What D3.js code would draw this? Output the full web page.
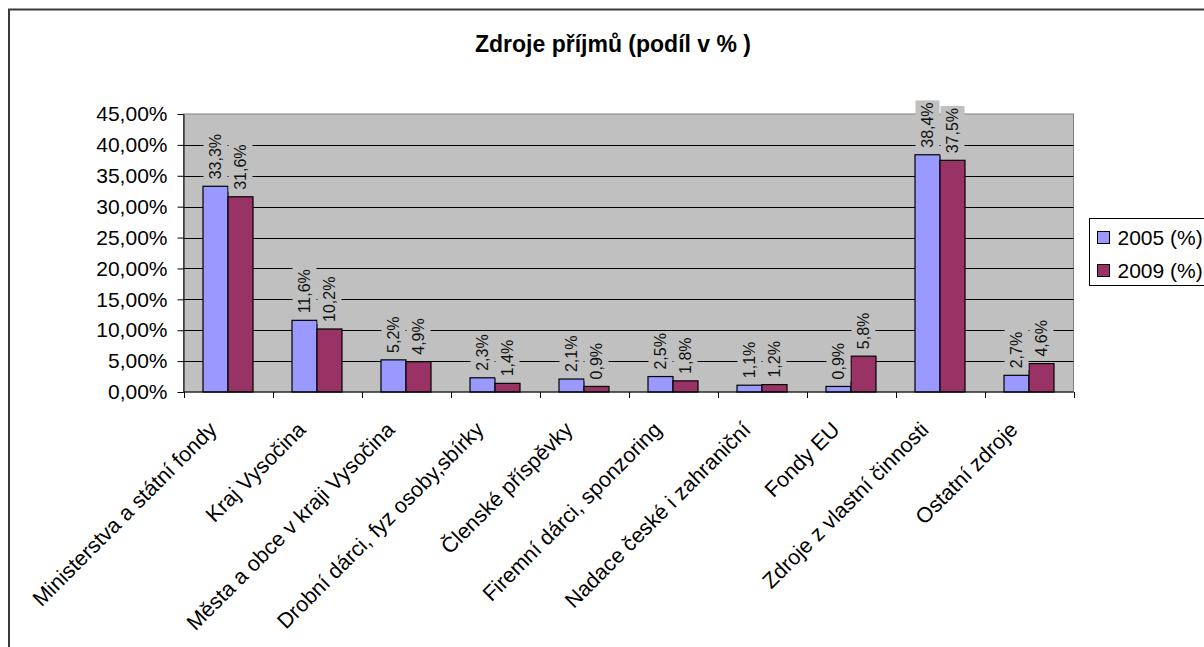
<!DOCTYPE html>
<html>
<head>
<meta charset="utf-8">
<script src="https://cdn.jsdelivr.net/npm/d3@7/dist/d3.min.js"></script>
<style>
  html, body { margin: 0; padding: 0; background: #ffffff; }
  svg { display: block; font-family: "Liberation Sans", Arial, sans-serif; }
</style>
</head>
<body>
<svg id="chart" width="1204" height="647"></svg>
<script>
// Income sources, share in percent
const categories = [
  "Ministerstva a státní fondy",
  "Kraj Vysočina",
  "Města a obce v kraji Vysočina",
  "Drobní dárci, fyz osoby,sbírky",
  "Členské příspěvky",
  "Firemní dárci, sponzoring",
  "Nadace české i zahraniční",
  "Fondy EU",
  "Zdroje z vlastní činnosti",
  "Ostatní zdroje"
];
const values2005 = [33.3, 11.6, 5.2, 2.3, 2.1, 2.5, 1.1, 0.9, 38.4, 2.7];
const values2009 = [31.6, 10.2, 4.9, 1.4, 0.9, 1.8, 1.2, 5.8, 37.5, 4.6];
const seriesNames = ["2005 (%)", "2009 (%)"];
const seriesColors = ["#9999FF", "#993366"];
const yTicks = [0, 5, 10, 15, 20, 25, 30, 35, 40, 45];
const titleText = "Zdroje příjmů (podíl v % )";

const series = [values2005, values2009];
const svg = d3.select("#chart");

// outer chart frame
svg.append("rect")
  .attr("x", 9).attr("y", 9.5)
  .attr("width", 1260).attr("height", 700)
  .attr("fill", "#ffffff")
  .attr("stroke", "#3a3a3a").attr("stroke-width", 2);

const plot = { left: 183.5, right: 1073.5, top: 114, bottom: 392 };

const x = d3.scaleBand().domain(categories).range([plot.left, plot.right]).padding(0);
const x1 = d3.scaleBand().domain(seriesNames).range([0, 50]).padding(0);
const groupOffset = (x.bandwidth() - 50) / 2;
const y = d3.scaleLinear().domain([0, 45]).range([plot.bottom, plot.top]);

// title
svg.append("text")
  .attr("x", 613).attr("y", 52)
  .attr("text-anchor", "middle")
  .attr("font-size", 23).attr("font-weight", "bold")
  .attr("fill", "#000")
  .text(titleText);

// plot background
svg.append("rect")
  .attr("x", plot.left).attr("y", plot.top)
  .attr("width", plot.right - plot.left).attr("height", plot.bottom - plot.top)
  .attr("fill", "#C0C0C0")
  .attr("stroke", "#808080").attr("stroke-width", 1);

// gridlines
svg.append("g")
  .selectAll("line")
  .data(yTicks.filter(t => t > 0 && t < 45))
  .join("line")
  .attr("x1", plot.left).attr("x2", plot.right)
  .attr("y1", d => Math.round(y(d)) + 0.5).attr("y2", d => Math.round(y(d)) + 0.5)
  .attr("stroke", "#000").attr("stroke-width", 1);

// bars
const rows = categories.map((c, i) => ({ cat: c, vals: series.map((s, j) => ({ name: seriesNames[j], value: s[i], color: seriesColors[j] })) }));

const groups = svg.append("g").selectAll("g")
  .data(rows)
  .join("g")
  .attr("transform", d => `translate(${x(d.cat) + groupOffset},0)`);

groups.selectAll("rect")
  .data(d => d.vals)
  .join("rect")
  .attr("x", d => x1(d.name))
  .attr("y", d => y(d.value))
  .attr("width", x1.bandwidth())
  .attr("height", d => y(0) - y(d.value))
  .attr("fill", d => d.color)
  .attr("stroke", "#000").attr("stroke-width", 1.2);

// data labels (rotated, with plot-coloured backing)
const fmtLabel = v => d3.format(".1f")(v).replace(".", ",") + "%";
const labels = groups.selectAll("g.lbl")
  .data(d => d.vals)
  .join("g")
  .attr("class", "lbl")
  .attr("transform", d => `translate(${x1(d.name) + x1.bandwidth() / 2},${y(d.value) - 7}) rotate(-90)`);

labels.append("rect").attr("class", "bg").attr("fill", "#C0C0C0");
labels.append("text")
  .attr("x", 0).attr("y", 0).attr("dy", "0.35em")
  .attr("font-size", 16).attr("fill", "#111")
  .text(d => fmtLabel(d.value));
labels.each(function() {
  const g = d3.select(this);
  const len = g.select("text").node().getComputedTextLength();
  g.select("rect.bg")
    .attr("x", -2).attr("y", -12)
    .attr("width", len + 4).attr("height", 24);
});

// y axis
const yAxis = d3.axisLeft(y)
  .tickValues(yTicks)
  .tickSize(6).tickSizeOuter(0).tickPadding(10)
  .tickFormat(d => d3.format(".2f")(d).replace(".", ",") + "%");
const gy = svg.append("g").attr("transform", `translate(${plot.left},0)`).call(yAxis);
gy.selectAll("text").attr("font-size", 21).attr("fill", "#000").attr("font-family", "Liberation Sans, Arial, sans-serif");
gy.selectAll("line").attr("stroke", "#000");
gy.select(".domain").attr("stroke", "#000");

// x axis with ticks on category boundaries
const gx = svg.append("g");
gx.append("line")
  .attr("x1", plot.left).attr("x2", plot.right)
  .attr("y1", plot.bottom).attr("y2", plot.bottom)
  .attr("stroke", "#000");
const boundaries = categories.map(c => x(c)).concat([x.range()[1]]);
gx.selectAll("line.tick")
  .data(boundaries)
  .join("line")
  .attr("class", "tick")
  .attr("x1", d => Math.round(d) + 0.5).attr("x2", d => Math.round(d) + 0.5)
  .attr("y1", plot.bottom).attr("y2", plot.bottom + 6)
  .attr("stroke", "#000");

gx.selectAll("text")
  .data(categories)
  .join("text")
  .attr("transform", d => `translate(${x(d) + x.bandwidth() / 2 - 10},${plot.bottom + 39}) rotate(-45)`)
  .attr("text-anchor", "end")
  .attr("font-size", 21.5).attr("fill", "#000")
  .text(d => d);

// legend
const legend = svg.append("g");
legend.append("rect")
  .attr("x", 1089.5).attr("y", 218.5)
  .attr("width", 140).attr("height", 67)
  .attr("fill", "#fff").attr("stroke", "#000");
const items = legend.selectAll("g.item")
  .data(seriesNames)
  .join("g")
  .attr("class", "item")
  .attr("transform", (d, i) => `translate(1097.5,${231.5 + i * 33})`);
items.append("rect")
  .attr("width", 12).attr("height", 12)
  .attr("fill", (d, i) => seriesColors[i])
  .attr("stroke", "#000");
items.append("text")
  .attr("x", 20).attr("y", 13)
  .attr("font-size", 21).attr("fill", "#000")
  .text(d => d);
</script>
</body>
</html>
